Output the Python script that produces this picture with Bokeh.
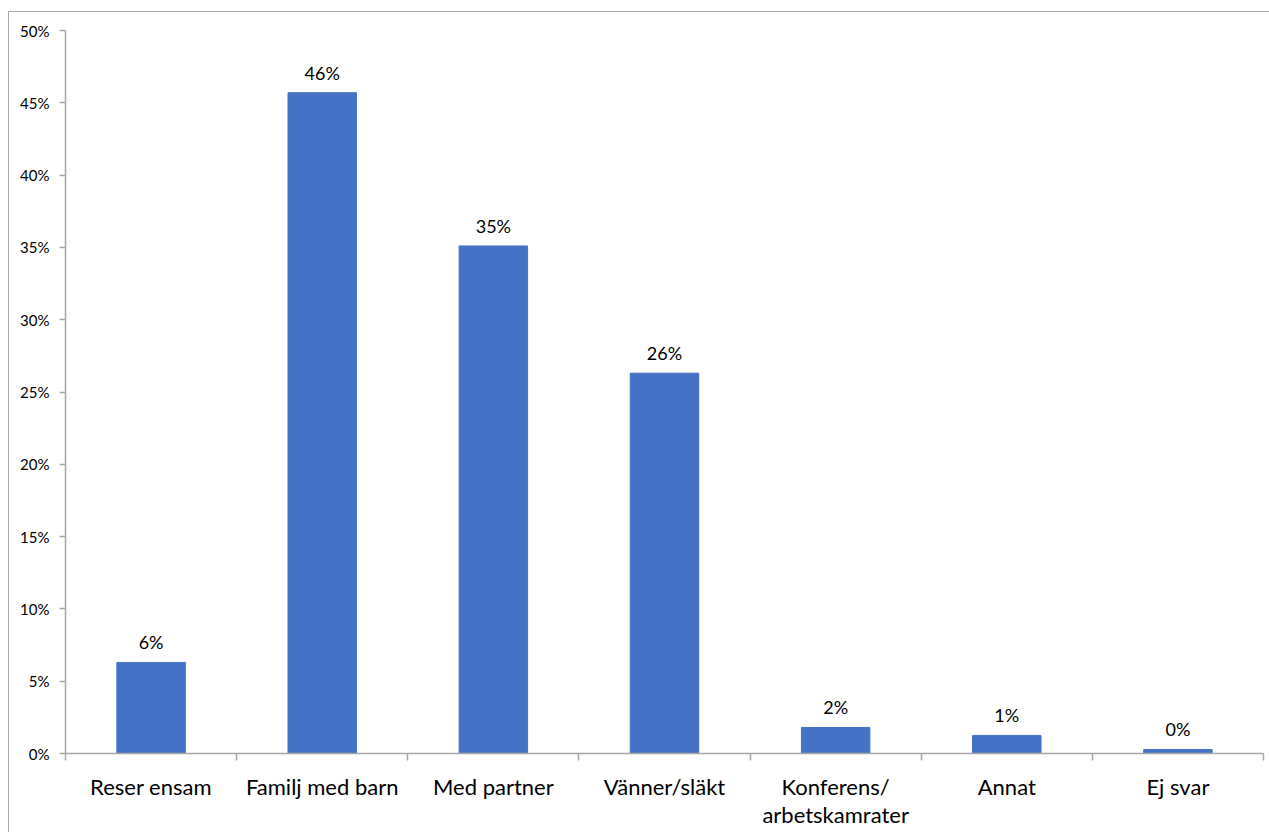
from bokeh.plotting import figure
from bokeh.models import ColumnDataSource, FixedTicker, PrintfTickFormatter, Range1d
from bokeh.core.properties import value
from bokeh.embed import file_html
from bokeh.resources import INLINE

categories = ["Reser ensam", "Familj med barn", "Med partner", "Vänner/släkt",
              "Konferens/\narbetskamrater", "Annat", "Ej svar"]
values = [6.3, 45.7, 35.1, 26.3, 1.8, 1.25, 0.28]
labels = ["6%", "46%", "35%", "26%", "2%", "1%", "0%"]
y_ticks = [0, 5, 10, 15, 20, 25, 30, 35, 40, 45, 50]

FONT = "Lato"
n = len(categories)
xs = [i + 0.5 for i in range(n)]

src = ColumnDataSource(dict(x=xs, top=values, label=labels))

p = figure(width=1262, height=830, output_backend="svg", toolbar_location=None,
           x_range=Range1d(0, n), y_range=Range1d(0, 50),
           min_border_left=56, min_border_right=8, min_border_top=18, min_border_bottom=89)
p.styles = {"margin-left": "9px", "margin-top": "12px", "outline": "1px solid #a6a6a6"}
p.outline_line_color = None
p.grid.visible = False
p.background_fill_color = "white"

p.vbar(x="x", top="top", width=0.4, bottom=0, source=src, color="#4472C4")
p.text(x="x", y="top", text="label", source=src, text_align="center",
       text_baseline="bottom", y_offset=-9, text_font=value(FONT),
       text_font_size="18px", text_color="#000000")

# x axis
xa = p.xaxis[0]
xa.ticker = FixedTicker(ticks=xs, minor_ticks=list(range(n + 1)))
xa.major_label_overrides = {x: c for x, c in zip(xs, categories)}
xa.major_tick_out = 0
xa.major_tick_in = 0
xa.minor_tick_out = 7
xa.minor_tick_in = 0
xa.minor_tick_line_color = "#a6a6a6"
xa.minor_tick_line_width = 1.5
xa.axis_line_color = "#a6a6a6"
xa.axis_line_width = 1.5
xa.major_label_text_font = FONT
xa.major_label_text_font_size = "22px"
xa.major_label_text_color = "#000000"
xa.major_label_text_line_height = 1.05
xa.major_label_standoff = 12

# y axis
ya = p.yaxis[0]
ya.ticker = FixedTicker(ticks=y_ticks, minor_ticks=[])
ya.formatter = PrintfTickFormatter(format="%d%%")
ya.major_tick_out = 6
ya.major_tick_in = 0
ya.major_tick_line_color = "#a6a6a6"
ya.major_tick_line_width = 1.5
ya.axis_line_color = "#a6a6a6"
ya.axis_line_width = 1.5
ya.major_label_text_font = FONT
ya.major_label_text_font_size = "15px"
ya.major_label_text_color = "#000000"
ya.major_label_standoff = 10

template = """
{% block postamble %}
<style>html, body { overflow: hidden; }</style>
{% endblock %}
"""

open("out.html", "w").write(file_html(p, INLINE, template=template))
